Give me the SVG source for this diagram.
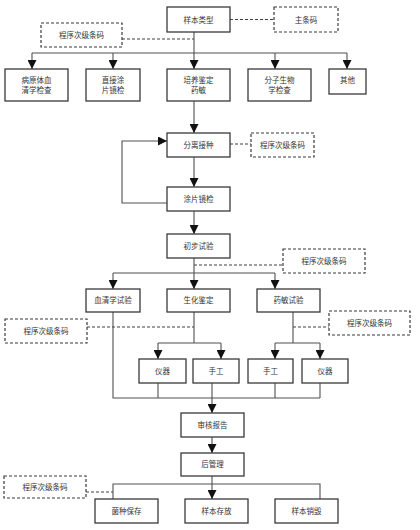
<svg xmlns="http://www.w3.org/2000/svg" width="420" height="530" viewBox="0 0 420 530">
<style>
.b{fill:#fff;stroke:#3a3a3a;stroke-width:1.3}
.d{fill:#fff;stroke:#3a3a3a;stroke-width:1.2;stroke-dasharray:3,2}
.l{fill:none;stroke:#505050;stroke-width:1.1}
.dl{fill:none;stroke:#404040;stroke-width:1.1;stroke-dasharray:3,2}
.a{marker-end:url(#ar)}
text{font-family:"Noto Sans CJK SC","Noto Sans",sans-serif;font-size:7.5px;fill:#333;text-anchor:middle}
</style>
<defs>
<marker id="ar" markerUnits="userSpaceOnUse" markerWidth="9" markerHeight="9" refX="8" refY="4" orient="auto" viewBox="0 0 8 8">
<path d="M0,0 L8,4 L0,8 z" fill="#111"/>
</marker>
</defs>
<rect width="420" height="530" fill="#fff"/>
<g id="connectors">
<path class="dl" d="M230,19.5 H274"/>
<path class="dl" d="M122,39 H194"/>
<path class="l" d="M194,32 V53 M32,53 H347"/>
<path class="l a" d="M32,53 V69"/>
<path class="l a" d="M113,53 V69"/>
<path class="l a" d="M194,53 V69"/>
<path class="l a" d="M275,53 V69"/>
<path class="l a" d="M347,53 V69"/>
<path class="l a" d="M194,101 V133"/>
<path class="dl" d="M230,144 H251"/>
<path class="l a" d="M194,157 V187"/>
<path class="l a" d="M167,203 H122 V141 H167"/>
<path class="l a" d="M194,211 V234"/>
<path class="dl" d="M194,265 H283"/>
<path class="l" d="M194,258 V273 M113,273 H275"/>
<path class="l a" d="M113,273 V289"/>
<path class="l a" d="M194,273 V289"/>
<path class="l a" d="M275,273 V289"/>
<path class="dl" d="M87,327 H194"/>
<path class="dl" d="M293,327 H329"/>
<path class="l" d="M194,312 V343 M158,343 H221"/>
<path class="l a" d="M158,343 V359"/>
<path class="l a" d="M221,343 V359"/>
<path class="l" d="M293,312 V343 M275,343 H320"/>
<path class="l a" d="M275,343 V359"/>
<path class="l a" d="M320,343 V359"/>
<path class="l" d="M113,312 V398 H320 M158,383 V398 M275,383 V398 M320,383 V398"/>
<path class="l a" d="M212,383 V413"/>
<path class="l a" d="M212,437 V453"/>
<path class="l" d="M113,499 V484 H320 V499"/>
<path class="l a" d="M212,476 V499"/>
<path class="dl" d="M86,492 H113"/>
</g>
<g id="n_type"><rect class="b" x="167" y="7" width="63" height="25"/><text x="198.5" y="22.5">样本类型</text></g>
<g id="n_main"><rect class="d" x="274" y="7" width="64" height="25"/><text x="306" y="22.5">主条码</text></g>
<g id="n_sub1"><rect class="d" x="41" y="23" width="81" height="24"/><text x="81.5" y="38">程序次级条码</text></g>
<g id="n_serum"><rect class="b" x="5" y="69" width="63" height="32"/><text x="36.5" y="82.6">病原体血</text><text x="36.5" y="93.1">清学检查</text></g>
<g id="n_smear"><rect class="b" x="86" y="69" width="54" height="32"/><text x="113" y="82.6">直接涂</text><text x="113" y="93.1">片镜检</text></g>
<g id="n_culture"><rect class="b" x="167" y="69" width="63" height="32"/><text x="198.5" y="82.6">培养鉴定</text><text x="198.5" y="93.1">药敏</text></g>
<g id="n_mol"><rect class="b" x="248" y="69" width="63" height="32"/><text x="279.5" y="82.6">分子生物</text><text x="279.5" y="93.1">学检查</text></g>
<g id="n_other"><rect class="b" x="329" y="69" width="37" height="25"/><text x="347.5" y="82.6">其他</text></g>
<g id="n_iso"><rect class="b" x="167" y="133" width="63" height="24"/><text x="198.5" y="147.6">分离接种</text></g>
<g id="n_sub2"><rect class="d" x="251" y="133" width="63" height="24"/><text x="282.5" y="147.6">程序次级条码</text></g>
<g id="n_tp"><rect class="b" x="167" y="187" width="63" height="24"/><text x="198.5" y="201.6">涂片镜检</text></g>
<g id="n_prelim"><rect class="b" x="167" y="234" width="63" height="24"/><text x="198.5" y="248.6">初步试验</text></g>
<g id="n_sub3"><rect class="d" x="283" y="249" width="82" height="24"/><text x="324" y="263.6">程序次级条码</text></g>
<g id="n_sero"><rect class="b" x="86" y="289" width="54" height="23"/><text x="113" y="303">血清学试验</text></g>
<g id="n_bio"><rect class="b" x="167" y="289" width="63" height="23"/><text x="198.5" y="303">生化鉴定</text></g>
<g id="n_ast"><rect class="b" x="257" y="289" width="63" height="23"/><text x="288.5" y="303">药敏试验</text></g>
<g id="n_sub4"><rect class="d" x="5" y="319" width="82" height="24"/><text x="46" y="333.6">程序次级条码</text></g>
<g id="n_sub5"><rect class="d" x="329" y="311" width="81" height="24"/><text x="369.5" y="325.6">程序次级条码</text></g>
<g id="n_inst1"><rect class="b" x="139" y="359" width="47" height="24"/><text x="162.5" y="373.6">仪器</text></g>
<g id="n_man1"><rect class="b" x="193" y="359" width="46" height="24"/><text x="216" y="373.6">手工</text></g>
<g id="n_man2"><rect class="b" x="248" y="359" width="45" height="24"/><text x="270.5" y="373.6">手工</text></g>
<g id="n_inst2"><rect class="b" x="302" y="359" width="46" height="24"/><text x="325" y="373.6">仪器</text></g>
<g id="n_review"><rect class="b" x="181" y="413" width="63" height="24"/><text x="212.5" y="427.6">审核报告</text></g>
<g id="n_post"><rect class="b" x="181" y="453" width="63" height="23"/><text x="212.5" y="467">后管理</text></g>
<g id="n_sub6"><rect class="d" x="4" y="476" width="82" height="22"/><text x="45" y="489.6">程序次级条码</text></g>
<g id="n_strain"><rect class="b" x="95" y="499" width="63" height="24"/><text x="126.5" y="513.6">菌种保存</text></g>
<g id="n_store"><rect class="b" x="185" y="499" width="63" height="24"/><text x="216.5" y="513.6">样本存放</text></g>
<g id="n_destroy"><rect class="b" x="275" y="499" width="63" height="24"/><text x="306.5" y="513.6">样本销毁</text></g>
</svg>
